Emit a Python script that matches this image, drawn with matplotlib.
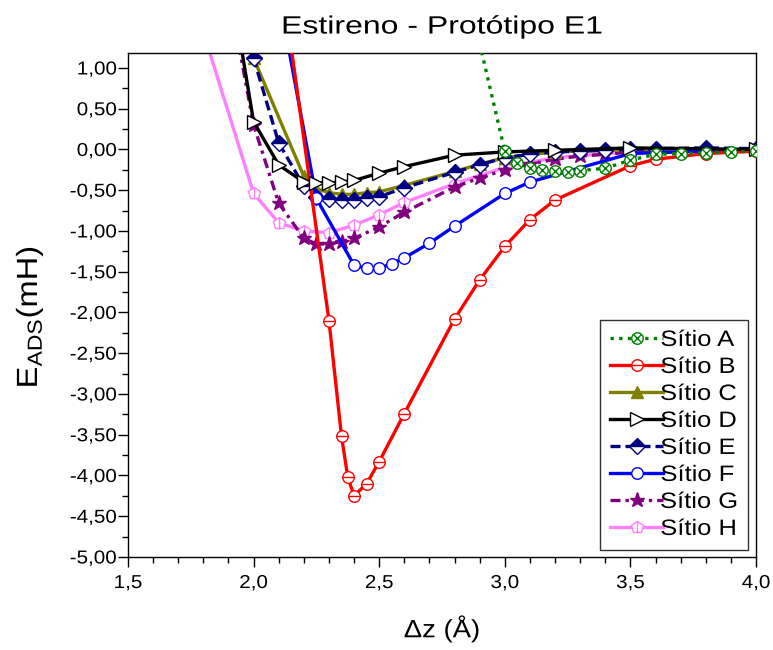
import matplotlib
matplotlib.use("Agg")
import matplotlib.pyplot as plt
from matplotlib.legend_handler import HandlerTuple
from matplotlib.ticker import MultipleLocator, FuncFormatter
from matplotlib.patheffects import AbstractPathEffect
from matplotlib.transforms import Affine2D

plt.rcParams['font.family'] = ['Liberation Sans', 'DejaVu Sans']
plt.rcParams['mathtext.fontset'] = 'custom'
plt.rcParams['mathtext.rm'] = 'Liberation Sans'

# Adsorption energy curves per site (dz in Angstrom, E in mH)
A_x = [2.9, 3.0, 3.05, 3.1, 3.15, 3.2, 3.25, 3.3, 3.4, 3.5, 3.6, 3.7, 3.8, 3.9, 4.0]
A_y = [1.30, -0.02, -0.17, -0.23, -0.25, -0.27, -0.28, -0.26, -0.23, -0.13, -0.06, -0.05, -0.04, -0.03, -0.02]

B_x = [2.1, 2.3, 2.35, 2.375, 2.4, 2.45, 2.5, 2.6, 2.8, 2.9, 3.0, 3.1, 3.2, 3.5, 3.6, 3.8, 4.0]
B_y = [2.36, -2.10, -3.52, -4.02, -4.25, -4.10, -3.83, -3.24, -2.08, -1.60, -1.19, -0.86, -0.62, -0.20, -0.12, -0.05, -0.02]

C_x = [2.0, 2.2, 2.25, 2.3, 2.35, 2.4, 2.45, 2.5, 2.6, 2.8, 2.9, 3.0, 3.2, 3.5, 4.0]
C_y = [1.12, -0.33, -0.48, -0.53, -0.55, -0.55, -0.53, -0.52, -0.44, -0.27, -0.18, -0.10, -0.03, 0.0, 0.0]

D_x = [1.9, 2.0, 2.1, 2.2, 2.25, 2.3, 2.35, 2.4, 2.5, 2.6, 2.8, 3.0, 3.2, 3.5, 4.0]
D_y = [2.20, 0.34, -0.19, -0.40, -0.41, -0.41, -0.40, -0.38, -0.29, -0.21, -0.07, -0.03, -0.01, 0.02, 0.0]

E_x = [1.9, 2.0, 2.1, 2.2, 2.25, 2.3, 2.35, 2.4, 2.45, 2.5, 2.6, 2.8, 2.9, 3.0, 3.1, 3.2, 3.3, 3.4, 3.5, 3.6, 3.8, 4.0]
E_y = [2.50, 1.12, 0.08, -0.45, -0.58, -0.61, -0.62, -0.62, -0.60, -0.58, -0.47, -0.28, -0.19, -0.10, -0.06, -0.03, -0.02, -0.01, 0.0, 0.01, 0.02, 0.01]

F_x = [2.1, 2.25, 2.4, 2.45, 2.5, 2.55, 2.6, 2.7, 2.8, 3.0, 3.1, 3.5, 4.0]
F_y = [1.90, -0.60, -1.42, -1.46, -1.46, -1.40, -1.33, -1.15, -0.94, -0.54, -0.40, -0.05, 0.0]

G_x = [1.9, 2.0, 2.1, 2.2, 2.25, 2.3, 2.35, 2.4, 2.5, 2.6, 2.8, 2.9, 3.0, 3.1, 3.2, 3.3, 3.4, 3.5, 3.6, 3.8, 4.0]
G_y = [1.96, 0.30, -0.66, -1.09, -1.16, -1.16, -1.13, -1.09, -0.95, -0.77, -0.46, -0.35, -0.25, -0.18, -0.12, -0.08, -0.06, -0.03, -0.02, -0.01, 0.0]

H_x = [1.8, 2.0, 2.1, 2.2, 2.3, 2.4, 2.5, 2.6, 2.8, 3.0, 3.2, 3.5, 4.0]
H_y = [1.44, -0.54, -0.90, -1.00, -1.02, -0.93, -0.80, -0.65, -0.42, -0.22, -0.10, -0.03, 0.0]

labels = ["Sítio A", "Sítio B", "Sítio C", "Sítio D", "Sítio E", "Sítio F", "Sítio G", "Sítio H"]


class Stretch(AbstractPathEffect):
    """Widen glyph runs along the writing direction around an anchor."""

    def __init__(self, factor, anchor='center'):
        super().__init__()
        self.factor = factor
        self.anchor = anchor

    def draw_path(self, renderer, gc, tpath, affine, rgbFace=None):
        ext = tpath.get_extents()
        if self.anchor == 'left':
            x0 = ext.x0
        elif self.anchor == 'right':
            x0 = ext.x1
        else:
            x0 = 0.5 * (ext.x0 + ext.x1)
        t = Affine2D().translate(-x0, 0).scale(self.factor, 1).translate(x0, 0) + affine
        renderer.draw_path(gc, tpath, t, rgbFace)


fig = plt.figure(figsize=(7.73, 6.5), dpi=100)
ax = fig.add_axes([0.1656, 0.1431, 0.8124, 0.7754])

lw = 2.4
ms = 8.3
handles = []

# Site A: dotted green, circle with a cross
a1, = ax.plot(A_x, A_y, color='#008000', lw=lw, ls=(0, (1, 1.6)), marker='o', ms=ms,
              mfc='white', mec='#008000', mew=1.0, zorder=2.8)
a2, = ax.plot(A_x, A_y, ls='none', marker='x', ms=ms * 0.7, mec='#008000', mew=1.0, zorder=2.8)
handles.append((a1, a2))

# Site B: red, circle with a bar
b1, = ax.plot(B_x, B_y, color='red', lw=lw, marker='o', ms=ms, mfc='white', mec='red', mew=1.0, zorder=2.6)
b2, = ax.plot(B_x, B_y, ls='none', marker='_', ms=ms, mec='red', mew=1.0, zorder=2.6)
handles.append((b1, b2))

# Site C: olive, triangle up
c1, = ax.plot(C_x, C_y, color='#808000', lw=lw, marker='^', ms=ms, mfc='#808000', mec='#808000',
              zorder=2.3)
handles.append(c1)

# Site D: black, open right triangle
d1, = ax.plot(D_x, D_y, color='black', lw=lw, marker='>', ms=ms + 1.7, mfc='white', mec='black',
              mew=1.0, zorder=2.7)
handles.append(d1)

# Site E: navy dashed, half-filled diamond
e1, = ax.plot(E_x, E_y, color='#000080', lw=lw, ls=(0, (3, 1.5)), marker='D', ms=ms - 0.3,
              fillstyle='top', mfc='#000080', mfcalt='white', mec='#000080', mew=1.0, zorder=2.4)
handles.append(e1)

# Site F: blue, open circle
f1, = ax.plot(F_x, F_y, color='blue', lw=lw, marker='o', ms=ms, mfc='white', mec='blue', mew=1.0,
              zorder=2.5)
handles.append(f1)

# Site G: purple dash-dot, star
g1, = ax.plot(G_x, G_y, color='#800080', lw=lw, ls=(0, (3, 1.5, 1, 1.5)), marker='*', ms=ms + 3,
              mfc='#800080', mec='#800080', zorder=2.2)
handles.append(g1)

# Site H: pink, open pentagon with a bar
h1, = ax.plot(H_x, H_y, color='#FF80FF', lw=lw, marker='p', ms=ms + 1, mfc='white', mec='#FF80FF',
              mew=1.0, zorder=2.1)
h2, = ax.plot(H_x, H_y, ls='none', marker='|', ms=ms, mec='#FF80FF', mew=1.0, zorder=2.1)
handles.append((h1, h2))

ax.set_xlim(1.5, 4.0)
ax.set_ylim(-5.0, 1.184)

ax.xaxis.set_major_locator(MultipleLocator(0.5))
ax.xaxis.set_minor_locator(MultipleLocator(0.1))
ax.yaxis.set_major_locator(MultipleLocator(0.5))
ax.yaxis.set_minor_locator(MultipleLocator(0.25))
ax.xaxis.set_major_formatter(FuncFormatter(lambda v, p: f"{v:.1f}".replace('.', ',')))
ax.yaxis.set_major_formatter(FuncFormatter(lambda v, p: f"{v:.2f}".replace('.', ',')))

ax.tick_params(which='both', direction='out', top=False, right=False, width=1.0, labelsize=13.5)
ax.tick_params(which='major', length=7)
ax.tick_params(which='minor', length=4)
ax.tick_params(axis='y', which='major', pad=1)
ax.tick_params(axis='x', which='major', pad=6)
for s in ax.spines.values():
    s.set_linewidth(1.0)

title = ax.set_title("Estireno - Protótipo E1", fontsize=18, pad=14)
title.set_path_effects([Stretch(1.28)])
xl = ax.set_xlabel("Δz (Å)", fontsize=18, labelpad=16)
xl.set_path_effects([Stretch(1.1)])
yl = ax.set_ylabel(r"E$_{\mathregular{ADS}}$(mH)", fontsize=21)
yl.set_path_effects([Stretch(1.12)])
ax.yaxis.set_label_coords(-0.132, 0.476)

leg = ax.legend(handles, labels, loc='lower right', bbox_to_anchor=(0.987, 0.014), borderaxespad=0,
                fontsize=16, numpoints=1, handlelength=2.4, handletextpad=0.3,
                labelspacing=0.27, frameon=True, fancybox=False, edgecolor='black',
                borderpad=0.45, handler_map={tuple: HandlerTuple(ndivide=1, pad=0)})
leg.get_frame().set_linewidth(1.0)
for t in leg.get_texts():
    t.set_path_effects([Stretch(1.15, 'right')])

fig.canvas.draw()
for t in ax.get_xticklabels():
    t.set_path_effects([Stretch(1.1)])
for t in ax.get_yticklabels():
    t.set_path_effects([Stretch(1.1, 'right')])

fig.savefig("out.png", dpi=100)
